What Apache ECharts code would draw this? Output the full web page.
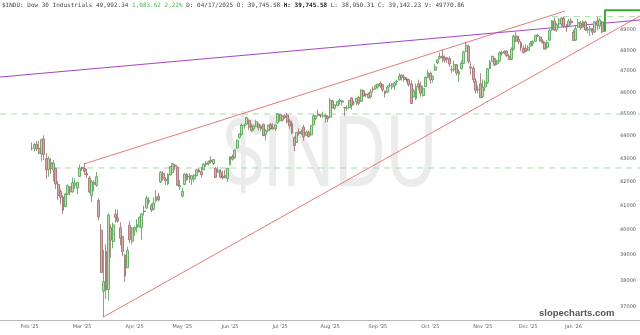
<!DOCTYPE html>
<html><head><meta charset="utf-8">
<script src="https://cdn.jsdelivr.net/npm/echarts@6/dist/echarts.min.js"></script>
<style>html,body{margin:0;padding:0;background:#fff}#c{width:640px;height:335px}</style>
</head><body><div id="c"></div>
<script>
// ---- trading days (month -> days) ----
const tradingDays = [
  ['2025-02',[24,25,26,27,28]],
  ['2025-03',[3,4,5,6,7,10,11,12,13,14,17,18,19,20,21,24,25,26,27,28,31]],
  ['2025-04',[1,2,3,4,7,8,9,10,11,14,15,16,17,21,22,23,24,25,28,29,30]],
  ['2025-05',[1,2,5,6,7,8,9,12,13,14,15,16,19,20,21,22,23,27,28,29,30]],
  ['2025-06',[2,3,4,5,6,9,10,11,12,13,16,17,18,20,23,24,25,26,27,30]],
  ['2025-07',[1,2,3,7,8,9,10,11,14,15,16,17,18,21,22,23,24,25,28,29,30,31]],
  ['2025-08',[1,4,5,6,7,8,11,12,13,14,15,18,19,20,21,22,25,26,27,28,29]],
  ['2025-09',[2,3,4,5,8,9,10,11,12,15,16,17,18,19,22,23,24,25,26,29,30]],
  ['2025-10',[1,2,3,6,7,8,9,10,13,14,15,16,17,20,21,22,23,24,27,28,29,30,31]],
  ['2025-11',[3,4,5,6,7,10,11,12,13,14,17,18,19,20,21,24,25,26,28]],
  ['2025-12',[1,2,3,4,5,8,9,10,11,12,15,16,17,18,19,22,23,24,26,29,30,31]],
  ['2026-01',[2,5,6,7,8,9,12,13,14,15,16,20,21,22,23,26,27,28,29,30]],
  ['2026-02',[2,3,4,5]]
];
const dates = tradingDays.flatMap(([m, ds]) => ds.map(d => m + '-' + String(d).padStart(2,'0')));

const open = [
 43470,43470,43640,43460,43220,
 43880,43010,42540,42830,42510,42590,41900,41600,41370,40960,41470,41800,41580,41860,41740,42240,42620,42580,42370,42170,41420,
 41900,41860,41220,40000,37600,39150,37650,40100,39540,40650,40500,40100,39745,39000,38500,40200,39550,40000,40100,40150,40100,
 40780,40900,41160,41020,40870,41210,41400,42000,42370,42110,41920,42300,42400,42720,42620,41800,41400,41900,42340,42250,42120,
 42130,42270,42520,42440,42520,42800,42790,42930,42790,42580,42420,42420,42240,42270,42150,42740,43100,43060,43480,43930,
 44070,44470,44540,44700,44420,44320,44440,44550,44330,44530,44080,44240,44520,44400,44330,44600,44980,44720,44920,44950,44680,44560,
 43940,43720,44190,44130,44400,44040,44190,44060,44500,44790,45000,44920,44900,44890,44880,44850,45600,45260,45380,45580,45600,
 45300,45260,45300,45740,45500,45560,45760,45580,46070,45920,45930,45790,46150,46190,46250,46420,46360,46050,46000,46310,46250,
 46300,46500,46580,46800,46720,46630,46600,46390,45780,45700,46400,46300,45850,46270,46700,46900,46600,47050,47400,47620,47720,47640,47640,
 47600,47060,47070,47300,46850,47120,47360,47940,48200,47200,47140,46530,46100,46400,45800,46250,46460,47130,47450,
 47600,47350,47480,47900,47870,47960,47720,47570,48060,48700,48540,48380,48100,48100,48000,48200,48350,48450,48740,48650,48460,48370,
 48150,48500,49000,49450,49000,49300,49300,49600,49150,49200,49450,48900,48500,49150,49350,49150,49400,49000,49000,49000,
 48900,49450,49200,49400
];
const high = [
 43720,43690,43790,43780,43880,
 44040,43240,43110,43030,42950,42620,42050,41680,41450,41530,41900,41820,42180,42160,42010,42750,42670,42820,42560,42260,42080,
 42090,42430,41300,40250,39210,39430,40700,40230,40310,40860,40830,40320,39745,39050,39330,40380,40110,40150,40440,40560,40680,
 41000,41420,41360,41090,41350,41650,41540,42470,42460,42200,42380,42680,42810,42780,42680,42080,41760,42370,42390,42380,42300,
 42330,42570,42590,42640,42810,42900,42920,43110,42990,42650,42650,42550,42480,42500,42590,43120,43180,43400,43850,44120,
 44560,44560,44880,44760,44560,44520,44740,44600,44520,44560,44310,44530,44600,44580,44570,45030,45000,44930,45000,45050,44780,44700,
 43980,44180,44350,44280,44510,44250,44260,44500,44980,44950,45200,45000,45110,45020,44930,45750,45640,45440,45600,45700,45650,
 45330,45390,45640,45770,45620,45720,45850,46140,46120,45950,45990,46150,46280,46350,46400,46500,46380,46090,46330,46450,46420,
 46480,46590,46900,46860,46840,46700,46640,46560,46170,46410,46600,46500,46320,46750,47060,46990,46800,47350,47560,47890,48040,47760,47680,
 47700,47250,47500,47340,47080,47520,47980,48430,48260,47460,47250,46660,46330,46900,46600,46560,47150,47530,47740,
 47650,47560,47950,48000,48000,48010,47820,48150,48760,48890,48720,48460,48250,48300,48250,48450,48490,48750,48800,48700,48550,48420,
 48500,49050,49500,49620,49350,49600,49650,49650,49300,49550,49600,49000,49250,49550,49450,49500,49450,49150,49200,49100,
 49450,49650,49600,49450
];
const low = [
 43360,43320,43340,43210,42910,
 42950,42130,42230,42340,42030,41710,41250,41050,40660,40950,41470,41430,41550,41710,41480,42220,42470,42310,42180,41530,41150,
 41600,41800,40400,38300,36612,37300,37250,38900,39270,40300,40300,39380,38950,37960,38500,39480,39430,39770,39900,40100,39600,
 40600,40880,41050,40730,40800,41130,41170,41960,42050,41880,41870,42280,42380,42500,41830,41660,41350,41870,42060,41960,41880,
 41980,42240,42400,42200,42500,42660,42710,42810,42730,42170,42400,42160,42110,42150,42000,42720,42920,43000,43430,43890,
 44030,44340,44520,44280,44170,44240,44400,44260,44220,44000,43800,44170,44280,44300,44240,44550,44650,44660,44780,44560,44300,44090,
 43340,43700,44030,44060,43800,44000,43940,44000,44490,44700,44880,44830,44840,44600,44630,44820,45260,45200,45360,45420,45400,
 44900,45150,45250,45200,45380,45400,45400,45560,45790,45770,45700,45720,45990,46130,46170,46210,46020,45760,45980,46220,46130,
 46110,46350,46560,46560,46500,46470,46270,45460,45760,45640,46100,45800,45800,46250,46660,46400,46460,47000,47350,47560,47420,47400,47400,
 47200,46920,46970,46800,46470,47060,47340,47910,47350,46830,46450,45950,45950,45730,45730,46050,46400,47100,47440,
 47250,47280,47450,47750,47800,47670,47520,47520,47980,48400,48300,47950,47850,47900,47960,48180,48200,48430,48650,48420,48340,48040,
 48050,48450,48950,48950,48900,49150,49200,49100,48900,49150,49250,48450,48450,49100,49000,49100,48950,48850,48700,48750,
 48850,49000,49050,48850
];
const close = [
 43461,43621,43433,43240,43841,
 43191,42520,43006,42579,42802,41912,41433,41351,40814,41489,41842,41582,41965,41953,41985,42583,42587,42455,42300,41584,42002,
 41990,42226,40546,38315,37966,37646,40609,39594,40213,40525,40369,39669,39142,38170,39187,39607,40093,40114,40228,40528,40669,
 40753,41317,41219,40829,41114,41368,41249,42410,42141,42051,42323,42655,42792,42677,41860,41859,41603,42343,42098,42216,42270,
 42305,42520,42428,42320,42763,42762,42867,42866,42968,42198,42515,42215,42172,42207,42582,43089,42982,43387,43819,44095,
 44495,44484,44829,44406,44241,44458,44651,44371,44460,44023,44254,44484,44342,44323,44502,45010,44694,44902,44838,44633,44461,44131,
 43589,44174,44112,44193,43969,44176,43975,44459,44922,44911,44946,44912,44922,44938,44786,45632,45282,45418,45565,45637,45545,
 45296,45271,45621,45401,45515,45711,45490,46108,45834,45883,45758,46018,46142,46315,46382,46292,46121,45947,46247,46316,46398,
 46441,46520,46758,46695,46603,46602,46358,45480,46068,46270,46253,45952,46191,46707,46925,46590,46735,47207,47545,47706,47632,47522,47563,
 47337,47085,47311,46912,46987,47368,47928,48254,47457,47147,46590,46092,46139,45752,46245,46448,47112,47428,47716,
 47289,47474,47883,47851,47955,47739,47560,48058,48704,48458,48417,48114,47886,47952,48135,48362,48442,48731,48711,48461,48367,48063,
 48382,48977,49462,48996,49266,49504,49590,49191,49149,49442,49359,48488,49077,49384,49098,49412,49003,49015,49071,48892,
 49407,49241,49501,48909
];

// axis ticks / labels
const yTicks = [37000,38000,39000,40000,41000,42000,43000,44000,45000,46000,47000,48000,49000];
const monthLabels = ["Feb '25","Mar '25","Apr '25","May '25","Jun '25","Jul '25","Aug '25","Sep '25","Oct '25","Nov '25","Dec '25","Jan '26"];
const monthTickIdx = [-1, 21, 43, 63, 83, 104, 125, 145, 167, 189, 208, 227];

// drawn studies: [trading-day index, price]
const upperChannel = [[21.8, 42776], [223.5, 49954]];
const lowerChannel = [[30, 36630], [254.9, 49703]];
const purpleTrend  = [[-13.4, 46719], [254.9, 49501]];
const dashedLevelA = [[-13.4, 45000], [254.9, 45000]];
const dashedLevelB = [[9.3, 42602], [254.9, 42602]];
const dashedLevelC = [[218, 49670], [254.9, 49670]];
const lastClose = 48909.53, livePrice = 49992.34;
const liveStep = [[240.2, lastClose], [240.2, livePrice], [254.9, livePrice]];

const lens = [dates.length, open.length, high.length, low.length, close.length];
if (new Set(lens).size !== 1) throw new Error('length mismatch ' + lens.join(','));

const L = Math.log;
const candles = dates.map((d, i) => [i, L(open[i]), L(close[i]), L(low[i]), L(high[i])]);
const tx = arr => arr.map(p => [p[0], L(p[1])]);

function lineSeries(data, color, width, type) {
  return { type: 'line', data: tx(data), symbol: 'none', silent: true, animation: false,
    lineStyle: { color, width, type: type || 'solid' }, z: 3 };
}

const chart = echarts.init(document.getElementById('c'), null, { renderer: 'canvas' });
chart.setOption({
  animation: false,
  backgroundColor: '#ffffff',
  grid: { left: 0, right: 0, top: 0, bottom: 15 },
  xAxis: {
    type: 'value', min: -13.42, max: 254.9,
    splitLine: { show: false },
    axisTick: { show: false },
    axisLine: { show: true, lineStyle: { color: '#b8b8b8', width: 1 } },
    axisLabel: {
      customValues: monthTickIdx, fontSize: 5, color: '#666', margin: 4,
      fontFamily: 'DejaVu Sans',
      formatter: v => monthLabels[monthTickIdx.indexOf(v)] || ''
    }
  },
  yAxis: {
    type: 'value', position: 'right', min: L(36515), max: L(50515), scale: true,
    splitLine: { show: false }, axisTick: { show: false }, axisLine: { show: false },
    axisLabel: {
      inside: true, margin: 4, fontSize: 5, color: '#556',
      fontFamily: 'DejaVu Sans',
      customValues: yTicks.map(L),
      formatter: v => String(Math.round(Math.exp(v) / 100) * 100)
    }
  },
  series: [
    lineSeries(dashedLevelA, '#a6dca6', 1, [6, 5]),
    lineSeries(dashedLevelB, '#a6dca6', 1, [6, 5]),
    lineSeries(dashedLevelC, '#a6dca6', 1, [6, 5]),
    {
      type: 'candlestick', data: candles, barWidth: 2.4, animation: false, z: 4,
      itemStyle: { color: '#b4e4ac', color0: '#d8aaa8', borderColor: '#4f9e4f', borderColor0: '#9a6a6a', borderWidth: 0.8 }
    },
    lineSeries(upperChannel, '#e8797a', 1),
    lineSeries(lowerChannel, '#e8797a', 1),
    lineSeries(purpleTrend, '#a544c8', 1),
    lineSeries(liveStep, '#3ca83c', 2)
  ],
  graphic: [
    { type: 'text', x: 223, y: 107, z: -10, scaleX: 0.7,
      style: { text: '$INDU', font: '102px "Liberation Sans"', fill: '#ebebeb' } },
    { type: 'text', x: 539, y: 308, z: 10,
      style: { text: 'slopecharts.com', font: 'bold 9.5px "Liberation Sans"', fill: '#555' } },
    { type: 'text', x: 2, y: 2, z: 10,
      style: {
        text: '{n|$INDU: Dow 30 Industrials 49,992.34 }{g|1,083.62 2.22%}{n| D: 04/17/2025 O: 39,745.58 }{b|H: 39,745.58}{n| L: 38,950.31 C: 39,142.23 V: 49770.86}',
        rich: {
          n: { font: '6px "DejaVu Sans Mono"', fill: '#444' },
          g: { font: '6px "DejaVu Sans Mono"', fill: '#4caf50' },
          b: { font: 'bold 6px "DejaVu Sans Mono"', fill: '#222' }
        }
      } }
  ]
});
</script>
</body></html>
